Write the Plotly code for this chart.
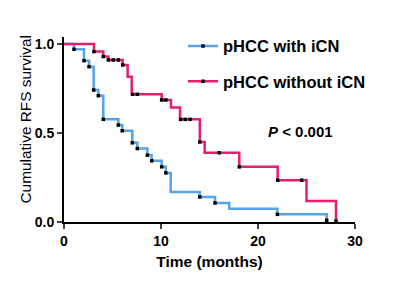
import plotly.graph_objects as go

# Step curves (time in months, survival)
blue_t = [0, 1.03, 2.06, 2.58, 3.06, 3.54, 4.05, 5.6, 6.0, 7.04, 7.56, 8.6, 9.04, 10.07, 10.5, 11.0, 14.0, 15.57, 17.04, 22.0, 27.08]
blue_s = [1.0, 0.971, 0.907, 0.873, 0.742, 0.71, 0.577, 0.545, 0.513, 0.445, 0.413, 0.376, 0.344, 0.31, 0.276, 0.169, 0.141, 0.107, 0.075, 0.043, 0.0]

red_t = [0, 3.09, 4.05, 4.57, 6.05, 6.56, 6.98, 10.07, 11.03, 11.96, 14.0, 14.5, 18.07, 22.03, 25.0, 28.04]
red_s = [1.0, 0.958, 0.93, 0.911, 0.883, 0.817, 0.718, 0.686, 0.644, 0.577, 0.45, 0.389, 0.31, 0.235, 0.118, 0.0]

# Censor marks
blue_ct = [1.03, 2.06, 2.58, 3.06, 3.54, 4.05, 5.6, 6.0, 7.04, 7.56, 8.6, 9.04, 10.07, 10.5, 14.0, 15.57, 22.0, 27.08]
blue_cs = [0.971, 0.907, 0.873, 0.742, 0.71, 0.577, 0.545, 0.513, 0.445, 0.413, 0.376, 0.344, 0.31, 0.276, 0.141, 0.107, 0.043, 0.01]

red_ct = [3.09, 4.05, 4.57, 5.08, 5.6, 6.05, 7.08, 7.56, 10.07, 10.5, 12.03, 12.5, 13.0, 14.0, 16.0, 18.07, 22.03, 24.5, 28.04]
red_cs = [0.958, 0.93, 0.911, 0.911, 0.911, 0.883, 0.718, 0.718, 0.686, 0.686, 0.577, 0.577, 0.577, 0.45, 0.389, 0.31, 0.235, 0.235, 0.005]

x_ticks = [0, 10, 20, 30]
y_ticks = [0, 0.5, 1.0]
y_tick_labels = ["0.0", "0.5", "1.0"]

BLUE = "#55a3e8"
RED = "#e61e72"
FONT = "Liberation Sans, Arial, sans-serif"

fig = go.Figure()

for name, t, s, ct, cs, col in [
    ("pHCC with iCN", blue_t, blue_s, blue_ct, blue_cs, BLUE),
    ("pHCC without iCN", red_t, red_s, red_ct, red_cs, RED),
]:
    fig.add_trace(go.Scatter(x=t, y=s, mode="lines", line=dict(color=col, width=2.5, shape="hv"),
                             showlegend=False, cliponaxis=False, hoverinfo="skip"))
    fig.add_trace(go.Scatter(x=ct, y=cs, mode="markers",
                             marker=dict(symbol="square", size=3.5, color="black"),
                             showlegend=False, cliponaxis=False, hoverinfo="skip"))
    fig.add_trace(go.Scatter(x=[None], y=[None], mode="lines+markers", name=name,
                             line=dict(color=col, width=2.5),
                             marker=dict(symbol="square", size=3.5, color="black"),
                             legendgroup=name))

fig.add_annotation(x=0.813, y=0.49, xref="paper", yref="paper", showarrow=False,
                   xanchor="center", yanchor="middle",
                   text="<b><i>P</i> &lt; 0.001</b>", font=dict(family=FONT, size=15, color="black"))

# y-axis title placed as an annotation for exact positioning
fig.add_annotation(x=0, y=0.554, xref="paper", yref="paper", showarrow=False,
                   xanchor="center", yanchor="middle", xshift=-38, textangle=-90,
                   text="Cumulative RFS survival", font=dict(family=FONT, size=15.4, color="black"))

fig.update_layout(
    width=392, height=275,
    margin=dict(l=56, r=45, t=29, b=61),
    paper_bgcolor="white", plot_bgcolor="white",
    font=dict(family=FONT, color="black"),
    legend=dict(x=0.409, y=1.045, xanchor="left", yanchor="top", bgcolor="rgba(0,0,0,0)",
                font=dict(family=FONT, size=16.5, color="black", weight="bold"),
                tracegroupgap=11, itemwidth=30, traceorder="grouped"),
    xaxis=dict(range=[0, 30], tickvals=x_ticks, ticks="outside", ticklen=5, tickwidth=2,
               showline=True, linecolor="black", linewidth=2, showgrid=False, zeroline=False,
               automargin=False,
               tickfont=dict(family=FONT, size=14, color="black", weight="bold"),
               title=dict(text="Time (months)", font=dict(family=FONT, size=15.5, color="black", weight="bold"), standoff=8)),
    yaxis=dict(range=[0, 1.04], tickvals=y_ticks, ticktext=y_tick_labels, ticks="outside", ticklen=5, tickwidth=2,
               showline=True, linecolor="black", linewidth=2, showgrid=False, zeroline=False,
               automargin=False,
               tickfont=dict(family=FONT, size=14, color="black", weight="bold")),
)

fig.write_html("out.html")
